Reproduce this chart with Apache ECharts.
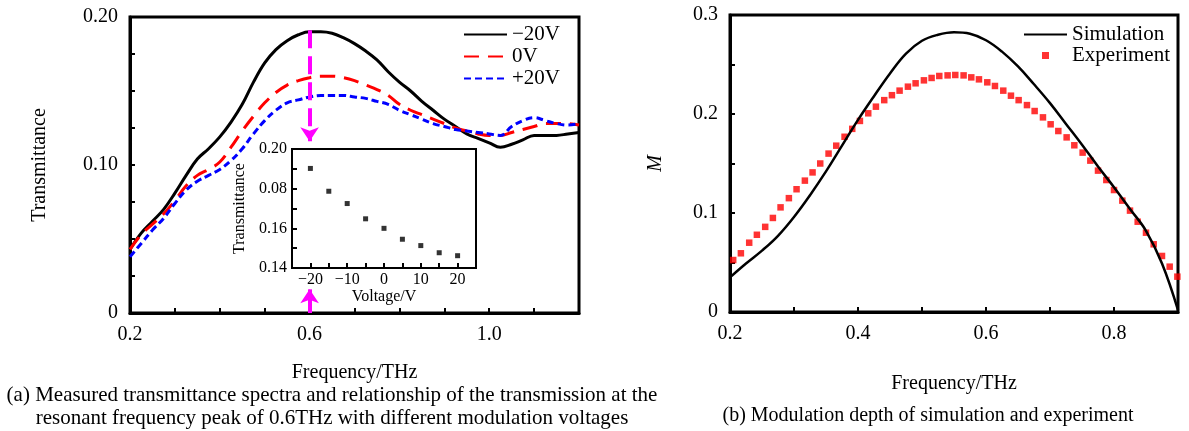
<!DOCTYPE html>
<html>
<head>
<meta charset="utf-8">
<script src="https://cdn.jsdelivr.net/npm/echarts@6/dist/echarts.min.js"></script>
<style>
  html, body { margin: 0; padding: 0; background: #fff; }
  #chart { width: 1189px; height: 431px; }
</style>
</head>
<body>
<div id="chart"></div>
<script>
// ---- data ----
// (a) transmittance spectra
const freqA = [0.2, 0.225, 0.25, 0.275, 0.3, 0.325, 0.35, 0.375, 0.4, 0.425, 0.45, 0.475, 0.5, 0.525, 0.55, 0.575,
  0.6, 0.625, 0.65, 0.675, 0.7, 0.725, 0.75, 0.775, 0.8, 0.825, 0.85, 0.875, 0.9, 0.925, 0.95, 0.975,
  1.0, 1.025, 1.05, 1.075, 1.1, 1.125, 1.15, 1.175, 1.2];
const transMinus20 = [0.043, 0.054, 0.062, 0.070, 0.081, 0.093, 0.104, 0.111, 0.119, 0.129, 0.141, 0.156, 0.169, 0.178, 0.184, 0.188,
  0.190, 0.190, 0.189, 0.186, 0.182, 0.177, 0.171, 0.163, 0.156, 0.150, 0.143, 0.137, 0.131, 0.126, 0.121, 0.118,
  0.115, 0.112, 0.114, 0.117, 0.120, 0.120, 0.120, 0.121, 0.122];
const trans0 = [0.043, 0.053, 0.060, 0.067, 0.076, 0.086, 0.093, 0.097, 0.102, 0.112, 0.123, 0.133, 0.142, 0.149, 0.154, 0.157,
  0.159, 0.160, 0.160, 0.159, 0.157, 0.154, 0.151, 0.147, 0.141, 0.137, 0.134, 0.131, 0.128, 0.125, 0.123, 0.121,
  0.120, 0.120, 0.122, 0.124, 0.126, 0.128, 0.128, 0.128, 0.127];
const transPlus20 = [0.038, 0.047, 0.056, 0.064, 0.074, 0.083, 0.089, 0.093, 0.097, 0.103, 0.111, 0.121, 0.130, 0.137, 0.142, 0.144,
  0.146, 0.147, 0.147, 0.147, 0.146, 0.145, 0.143, 0.141, 0.137, 0.134, 0.131, 0.128, 0.126, 0.124, 0.123, 0.122,
  0.121, 0.120, 0.126, 0.130, 0.132, 0.130, 0.128, 0.127, 0.128];
const seriesNamesA = ['\u221220V', '0V', '+20V'];

// magenta marker at the 0.6 THz peak
const markerFreq = 0.6;
const markerTopStart = 0.191;
const markerTopEnd = 0.116;
const markerBottomStart = 0;
const markerBottomEnd = 0.016;

// inset: transmittance at 0.6 THz vs voltage
const insetVoltage = [-20, -15, -10, -5, 0, 5, 10, 15, 20];
const insetTrans = [0.1902, 0.1787, 0.1725, 0.1648, 0.160, 0.1545, 0.1513, 0.1477, 0.1462];

// (b) modulation depth
const freqSim = [0.2, 0.225, 0.25, 0.275, 0.3, 0.325, 0.35, 0.375, 0.4, 0.425, 0.45, 0.475, 0.5, 0.525, 0.55,
  0.575, 0.6, 0.625, 0.65, 0.675, 0.7, 0.725, 0.75, 0.775, 0.8, 0.825, 0.85, 0.875, 0.9];
const depthSim = [0.035, 0.049, 0.062, 0.077, 0.096, 0.118, 0.142, 0.168, 0.194, 0.218, 0.241, 0.261, 0.274, 0.280, 0.2825,
  0.281, 0.2745, 0.263, 0.248, 0.230, 0.211, 0.190, 0.169, 0.147, 0.126, 0.104, 0.082, 0.049, 0.002];
const freqExp = [0.205, 0.217, 0.230, 0.242, 0.255, 0.267, 0.279, 0.292, 0.304, 0.317, 0.329, 0.341, 0.354, 0.366,
  0.379, 0.391, 0.403, 0.416, 0.428, 0.441, 0.453, 0.465, 0.478, 0.490, 0.503, 0.515, 0.527, 0.540, 0.552,
  0.565, 0.577, 0.589, 0.602, 0.614, 0.627, 0.639, 0.651, 0.664, 0.676, 0.689, 0.701, 0.713, 0.726, 0.738,
  0.751, 0.763, 0.775, 0.788, 0.800, 0.813, 0.825, 0.837, 0.850, 0.862, 0.875, 0.887, 0.899];
const depthExp = [0.0525, 0.0593, 0.070, 0.078, 0.086, 0.095, 0.1057, 0.115, 0.124, 0.1327, 0.141, 0.150, 0.160, 0.168,
  0.177, 0.185, 0.193, 0.2007, 0.2074, 0.214, 0.219, 0.2236, 0.2276, 0.231, 0.234, 0.2364, 0.2384, 0.239, 0.2394,
  0.239, 0.237, 0.235, 0.232, 0.2283, 0.2236, 0.2185, 0.214, 0.209, 0.203, 0.1966, 0.1896, 0.1828, 0.1764, 0.1684,
  0.161, 0.1529, 0.1428, 0.1333, 0.1232, 0.1125, 0.1024, 0.0912, 0.0801, 0.0684, 0.0566, 0.0458, 0.0357];

// tick labels
const aXTicks = [0.2, 0.6, 1.0];
const aXLabels = ['0.2', '0.6', '1.0'];
const aYTicks = [0, 0.1, 0.2];
const aYLabels = ['0', '0.10', '0.20'];
const insetXTicks = [-20, -10, 0, 10, 20];
const insetXLabels = ['\u221220', '\u221210', '0', '10', '20'];
const insetYTicks = [0.14, 0.16, 0.18, 0.20];
const insetYLabels = ['0.14', '0.16', '0.08', '0.20'];
const bXTicks = [0.2, 0.4, 0.6, 0.8];
const bXLabels = ['0.2', '0.4', '0.6', '0.8'];
const bYTicks = [0, 0.1, 0.2, 0.3];
const bYLabels = ['0', '0.1', '0.2', '0.3'];

const captionA = [
  '(a) Measured transmittance spectra and relationship of the transmission at the',
  'resonant frequency peak of 0.6THz with different modulation voltages'
];
const captionB = '(b) Modulation depth of simulation and experiment';

// ---- chart ----
const FONT = '"Liberation Serif", "Times New Roman", serif';

function pickLabel(ticks, labels) {
  return (v) => {
    const i = ticks.findIndex((t) => Math.abs(t - v) < 1e-6);
    return i >= 0 ? labels[i] : '';
  };
}

function axisBase(size) {
  return {
    type: 'value',
    axisLine: { onZero: false, lineStyle: { color: '#000', width: size > 17 ? 3 : 2 } },
    axisTick: { inside: true, length: 5, lineStyle: { color: '#000', width: 2 } },
    splitLine: { show: false },
    axisLabel: { color: '#000', fontSize: size, fontFamily: FONT, showMinLabel: true, showMaxLabel: true },
    nameLocation: 'middle',
    nameTextStyle: { color: '#000', fontSize: size, fontFamily: FONT },
  };
}

function zip(xs, ys) {
  return xs.map((x, i) => [x, ys[i]]);
}

const chart = echarts.init(document.getElementById('chart'), null, { renderer: 'canvas' });

const magenta = '#ff00ff';
// legend entries for lines: hide the marker dot, keep the line
const noDot = { opacity: 0 };
const squareIcon = 'path://M0,0L10,0L10,10L0,10Z';

const option = {
  animation: false,
  backgroundColor: '#fff',
  grid: [
    { left: 130, top: 17, width: 449, height: 296, show: true, borderColor: '#000', borderWidth: 3 },
    { left: 292, top: 149, width: 184, height: 119, show: true, borderColor: '#000', borderWidth: 2, backgroundColor: '#fff' },
    { left: 730, top: 15, width: 448, height: 297, show: true, borderColor: '#000', borderWidth: 3 },
  ],
  xAxis: [
    Object.assign(axisBase(20), {
      gridIndex: 0, min: 0.2, max: 1.2, interval: 0.1,
      name: 'Frequency/THz', nameGap: 50,
    }),
    Object.assign(axisBase(16), {
      gridIndex: 1, min: -25, max: 25, interval: 5,
      name: 'Voltage/V', nameGap: 19,
    }),
    Object.assign(axisBase(20), {
      gridIndex: 2, min: 0.2, max: 0.9, interval: 0.1,
      name: 'Frequency/THz', nameGap: 62,
    }),
  ],
  yAxis: [
    Object.assign(axisBase(20), {
      gridIndex: 0, min: 0, max: 0.2, interval: 0.025,
      name: 'Transmittance', nameGap: 80,
    }),
    Object.assign(axisBase(16), {
      gridIndex: 1, min: 0.14, max: 0.2, interval: 0.01,
      name: 'Transmittance', nameGap: 44,
    }),
    Object.assign(axisBase(20), {
      gridIndex: 2, min: 0, max: 0.3, interval: 0.05,
      name: 'M', nameGap: 64,
    }),
  ],
  legend: [
    {
      data: seriesNamesA.map((n) => ({ name: n, itemStyle: noDot })),
      orient: 'vertical', left: 458, top: 19,
      itemWidth: 43, itemHeight: 8, itemGap: 1,
      textStyle: { color: '#000', fontSize: 21, fontFamily: FONT },
    },
    {
      data: [
        { name: 'Simulation', itemStyle: noDot },
        { name: 'Experiment', icon: squareIcon },
      ],
      symbolKeepAspect: true,
      orient: 'vertical', left: 1018, top: 19,
      itemWidth: 43, itemHeight: 7, itemGap: 0,
      textStyle: { color: '#000', fontSize: 21, fontFamily: FONT },
    },
  ],
  series: [
    {
      name: seriesNamesA[0], type: 'line', xAxisIndex: 0, yAxisIndex: 0,
      data: zip(freqA, transMinus20), smooth: 0.4, symbol: 'none',
      lineStyle: { color: '#000', width: 3 }, itemStyle: { color: '#000' },
      markLine: {
        silent: true, symbol: ['none', 'arrow'], symbolSize: 14,
        label: { show: false },
        lineStyle: { color: magenta, width: 4, type: 'solid' },
        data: [
          [{ coord: [markerFreq, markerTopStart], lineStyle: { type: [18, 8], color: magenta, width: 4 } },
           { coord: [markerFreq, markerTopEnd] }],
          [{ coord: [markerFreq, markerBottomStart], lineStyle: { type: 'solid', color: magenta, width: 4 } },
           { coord: [markerFreq, markerBottomEnd] }],
        ],
      },
    },
    {
      name: seriesNamesA[1], type: 'line', xAxisIndex: 0, yAxisIndex: 0,
      data: zip(freqA, trans0), smooth: 0.4, symbol: 'none',
      lineStyle: { color: '#ff0000', width: 3, type: [15, 9] }, itemStyle: { color: '#ff0000' },
    },
    {
      name: seriesNamesA[2], type: 'line', xAxisIndex: 0, yAxisIndex: 0,
      data: zip(freqA, transPlus20), smooth: 0.4, symbol: 'none',
      lineStyle: { color: '#0000ff', width: 3, type: [7, 4] }, itemStyle: { color: '#0000ff' },
    },
    {
      name: 'inset', type: 'scatter', xAxisIndex: 1, yAxisIndex: 1,
      data: zip(insetVoltage, insetTrans), symbol: 'rect', symbolSize: 5,
      itemStyle: { color: '#000' },
    },
    {
      name: 'Simulation', type: 'line', xAxisIndex: 2, yAxisIndex: 2,
      data: zip(freqSim, depthSim), smooth: 0.4, symbol: 'none',
      lineStyle: { color: '#000', width: 2.5 }, itemStyle: { color: '#000' },
    },
    {
      name: 'Experiment', type: 'scatter', xAxisIndex: 2, yAxisIndex: 2,
      data: zip(freqExp, depthExp), symbol: 'rect', symbolSize: 6.5,
      itemStyle: { color: '#ff0000' },
    },
  ],
  graphic: [
    { type: 'text', x: 332, y: 395, style: { text: captionA[0], font: '21px ' + FONT, fill: '#000', align: 'center', verticalAlign: 'middle' } },
    { type: 'text', x: 332, y: 418, style: { text: captionA[1], font: '21px ' + FONT, fill: '#000', align: 'center', verticalAlign: 'middle' } },
    { type: 'text', x: 928, y: 416, style: { text: captionB, font: '20px ' + FONT, fill: '#000', align: 'center', verticalAlign: 'middle' } },
  ],
};

option.xAxis[0].axisLabel.formatter = pickLabel(aXTicks, aXLabels);
option.yAxis[0].axisLabel.formatter = pickLabel(aYTicks, aYLabels);
option.xAxis[1].axisLabel.formatter = pickLabel(insetXTicks, insetXLabels);
option.yAxis[1].axisLabel.formatter = pickLabel(insetYTicks, insetYLabels);
option.xAxis[2].axisLabel.formatter = pickLabel(bXTicks, bXLabels);
option.yAxis[2].axisLabel.formatter = pickLabel(bYTicks, bYLabels);
option.xAxis[0].axisLabel.margin = 12;
option.xAxis[2].axisLabel.margin = 12;
option.yAxis[0].axisLabel.margin = 12;
option.yAxis[2].axisLabel.margin = 12;
option.xAxis[1].axisLabel.margin = 4;
option.yAxis[1].axisLabel.margin = 5;
option.yAxis[2].nameTextStyle.fontStyle = 'italic';

chart.setOption(option);
window.addEventListener('resize', () => chart.resize());
</script>
</body>
</html>
